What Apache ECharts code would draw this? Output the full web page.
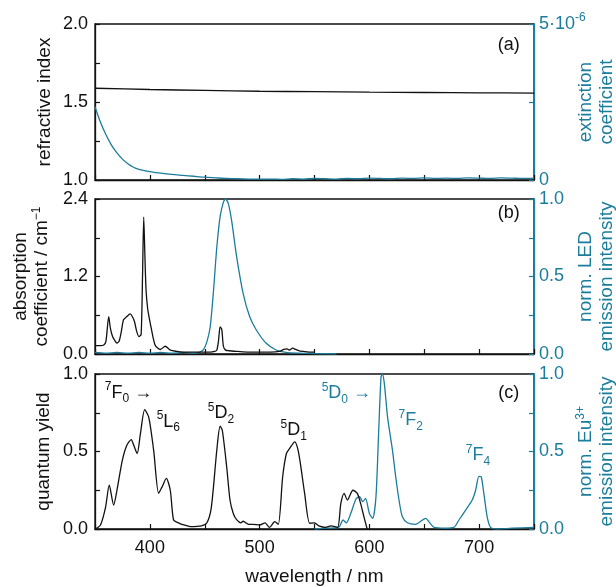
<!DOCTYPE html>
<html><head><meta charset="utf-8">
<script src="https://cdn.jsdelivr.net/npm/echarts@6/dist/echarts.min.js"></script>
<style>html,body{margin:0;padding:0;background:#fff}#c{width:616px;height:587px}</style>
</head><body><div id="c"></div>
<script>
// ---------- data ----------
// (a) refractive index & extinction coefficient (x 1e-6)
const refWl = [350,400,450,500,550,600,650,700,750];
const refN  = [1.588,1.580,1.574,1.569,1.566,1.563,1.561,1.559,1.557];
const extWl = [350,355,360,365,370,375,380,385,390,395,400,410,420,430,440,450,460,470,480,490,500,510,520,530,540,550,560,570,580,590,600,610,620,630,640,650,660,670,680,690,700,710,720,730,740,750];
const extK  = [2.35,1.85,1.45,1.12,0.87,0.67,0.52,0.41,0.34,0.30,0.27,0.22,0.18,0.15,0.12,0.09,0.07,0.05,0.04,0.03,0.025,0.03,0.02,0.04,0.03,0.05,0.04,0.03,0.05,0.04,0.06,0.05,0.04,0.06,0.05,0.07,0.05,0.06,0.05,0.07,0.06,0.05,0.07,0.06,0.05,0.06];
// (b) absorption coefficient & LED emission
const absWl = [350,355,358,360,362.5,364,366,368,370,372,374,376,379,382,384,386,388,390,392,393.3,394.4,395.5,396.5,398,399.5,401,403,405,409.5,414,418.6,424.6,430,440,450,455,459,461,462.5,464,465.5,467,469,472,480,490,500,510,518,522,525,527,530,533,536,540,545,550];
const absA  = [0.13,0.13,0.14,0.20,0.58,0.40,0.27,0.21,0.17,0.20,0.35,0.53,0.58,0.62,0.58,0.50,0.35,0.27,0.30,1.20,2.12,1.50,1.00,0.70,0.55,0.42,0.25,0.13,0.07,0.12,0.06,0.04,0.03,0.03,0.03,0.03,0.04,0.06,0.20,0.42,0.38,0.12,0.06,0.05,0.04,0.03,0.03,0.03,0.04,0.07,0.08,0.06,0.09,0.07,0.05,0.04,0.03,0.03];
const ledWl = [350,360,370,380,390,400,410,420,430,440,445,449,452,455,458,461,464,467,469,471.5,474.5,479,485,491,497,506,515,524,535,550,570];
const ledI  = [0.01,0.005,0.01,0.005,0.01,0.005,0.01,0.005,0.01,0.005,0.01,0.03,0.08,0.176,0.41,0.69,0.886,0.98,1.0,0.97,0.86,0.63,0.39,0.24,0.155,0.069,0.026,0.01,0.005,0.003,0.0];
// (c) quantum yield & Eu3+ emission
const qyWl = [350.5,355,359.6,363,367,370,374.8,379,383,385.3,388.4,391.4,395.3,399,403.4,408,411,415,418.6,421.6,426,431,437,447,452,456,461,464,466,470,473,476,479,483,485,490,494,500,505,509,513.8,517,521,524.4,527.4,532,535,538,541,545.6,550,554,560,565,571,574,577,580,585,589,592,595,598];
const qyV  = [0,0.026,0.14,0.283,0.155,0.25,0.44,0.54,0.577,0.54,0.487,0.616,0.77,0.72,0.51,0.23,0.27,0.326,0.25,0.058,0.04,0.026,0.015,0.02,0.04,0.14,0.51,0.663,0.637,0.40,0.187,0.10,0.06,0.04,0.05,0.03,0.03,0.026,0.04,0.01,0.047,0.03,0.337,0.487,0.52,0.562,0.51,0.38,0.23,0.037,0.04,0.02,0.01,0.02,0.01,0.165,0.23,0.187,0.25,0.23,0.165,0.08,0];
const euWl = [550,560,572,576,579,583,588,591,594,596.5,600,603,606,608.4,610.6,611.8,613.6,616.6,621,624,627,630,634.7,642,648.4,651.4,654.4,659,669,677,681.6,687.7,693.7,696.8,699.8,701.9,704.3,707.3,710.4,716,730,750];
const euV  = [0,0.005,0.01,0.058,0.04,0.10,0.197,0.208,0.176,0.197,0.10,0.069,0.208,0.616,0.98,1.0,0.94,0.72,0.51,0.337,0.187,0.08,0.04,0.03,0.058,0.069,0.045,0.01,0.005,0.01,0.058,0.122,0.187,0.25,0.34,0.337,0.23,0.08,0.01,0,0.005,0.01];
const xTicks = [400,500,600,700];

// ---------- style ----------
const FF = '"Liberation Sans", Arial, sans-serif';
const TEAL = '#1b7d9c';
const BLACK = '#111';
const pairs = (xs, ys) => xs.map((x, i) => [x, ys[i]]);
const rich = c => ({
  n:   {fontSize: 18, color: c, fontFamily: FF, lineHeight: 24},
  sup: {fontSize: 12, color: c, fontFamily: FF, verticalAlign: 'top', lineHeight: 24},
  sub: {fontSize: 12, color: c, fontFamily: FF, verticalAlign: 'bottom', lineHeight: 18},
  t:   {fontSize: 19, color: c, fontFamily: FF, lineHeight: 21},
  ts:  {fontSize: 12, color: c, fontFamily: FF, verticalAlign: 'top', lineHeight: 21}
});
const ann = (coord, text, color) => ({
  coord, value: 0, symbol: 'circle', symbolSize: 1, itemStyle: {color: 'rgba(0,0,0,0)'},
  label: {show: true, position: 'inside', formatter: text, color, fontSize: 18, fontFamily: FF, rich: rich(color)}
});

const grids = [
  {left: 95, right: 82, top: 24, height: 156},
  {left: 95, right: 82, top: 199, height: 155},
  {left: 95, right: 82, top: 374, height: 155}
].map(g => Object.assign(g, {show: true, borderColor: BLACK, borderWidth: 1.3, backgroundColor: 'transparent',
  containLabel: false, outerBoundsMode: 'none'}));

const xAxes = [0, 1, 2].map(i => ({
  type: 'value', gridIndex: i, min: 350, max: 750, interval: 50,
  axisLine: {lineStyle: {color: BLACK, width: 1.3}},
  axisTick: {inside: true, length: 5, lineStyle: {color: BLACK, width: 1.2}},
  splitLine: {show: false},
  axisLabel: {show: i === 2, margin: 10, fontSize: 18, color: BLACK, fontFamily: FF,
    formatter: v => xTicks.includes(Math.round(v)) ? String(Math.round(v)) : ''},
  name: i === 2 ? 'wavelength / nm' : '', nameLocation: 'middle', nameGap: 38, nameMoveOverlap: false,
  nameTextStyle: {fontSize: 19, color: BLACK, fontFamily: FF}
}));

function yAx(gi, side, min, max, interval, labelStep, dec, name, color, nameGap) {
  return {
    type: 'value', gridIndex: gi, position: side, min, max, interval,
    axisLine: {show: true, lineStyle: {color, width: 1.3}},
    axisTick: {show: true, inside: true, length: 5, lineStyle: {color, width: 1.2}},
    splitLine: {show: false},
    axisLabel: {margin: side === 'left' ? 7 : 5, fontSize: 18, color, fontFamily: FF,
      rich: rich(color),
      formatter: v => {
        const r = v / labelStep;
        if (Math.abs(r - Math.round(r)) > 1e-6) return '';
        return typeof dec === 'function' ? dec(v) : v.toFixed(dec);
      }},
    name, nameLocation: 'middle', nameGap, nameRotate: 90, nameMoveOverlap: false,
    nameTextStyle: {fontSize: 19, color, fontFamily: FF, lineHeight: 21, rich: rich(color)}
  };
}

const yAxes = [
  yAx(0, 'left', 1, 2, 0.25, 0.5, 1, 'refractive index', BLACK, 40),
  yAx(0, 'right', 0, 5, 2.5, 5, v => v === 0 ? '0' : '{n|5·10}{sup|-6}', '{t|extinction}\n{t|coefficient}', TEAL, 41),
  yAx(1, 'left', 0, 2.4, 0.6, 1.2, 1, '{t|absorption}\n{t|coefficient / cm}{ts|−1}', BLACK, 43),
  yAx(1, 'right', 0, 1, 0.25, 0.5, 1, '{t|norm. LED}\n{t|emission intensity}', TEAL, 41),
  yAx(2, 'left', 0, 1, 0.25, 0.5, 1, 'quantum yield', BLACK, 41),
  yAx(2, 'right', 0, 1, 0.25, 0.5, 1, '{t|norm. Eu}{ts|3+}\n{t|emission intensity}', TEAL, 41)
];

const line = (xi, yi, data, color, mp) => ({
  type: 'line', xAxisIndex: xi, yAxisIndex: yi, data, showSymbol: false, symbol: 'none',
  smooth: 0.25, lineStyle: {color, width: 1.3}, itemStyle: {color}, silent: true,
  markPoint: mp ? {silent: true, data: mp, animation: false} : undefined
});

const option = {
  animation: false,
  grid: grids, xAxis: xAxes, yAxis: yAxes,
  series: [
    line(0, 0, pairs(refWl, refN), BLACK, [ann([727, 1.865], '(a)', BLACK)]),
    line(0, 1, pairs(extWl, extK), TEAL),
    line(1, 3, pairs(ledWl, ledI), TEAL),
    line(1, 2, pairs(absWl, absA), BLACK, [ann([727, 2.18], '(b)', BLACK)]),
    line(2, 5, pairs(euWl, euV), TEAL, [
      ann([579, 0.876], '{sup|5}{n|D}{sub|0}{n| →}', TEAL),
      ann([637.6, 0.70], '{sup|7}{n|F}{sub|2}', TEAL),
      ann([699, 0.476], '{sup|7}{n|F}{sub|4}', TEAL)
    ]),
    line(2, 4, pairs(qyWl, qyV), BLACK, [
      ann([380.5, 0.88], '{sup|7}{n|F}{sub|0}{n| →}', BLACK),
      ann([416.8, 0.69], '{sup|5}{n|L}{sub|6}', BLACK),
      ann([464.8, 0.747], '{sup|5}{n|D}{sub|2}', BLACK),
      ann([531, 0.637], '{sup|5}{n|D}{sub|1}', BLACK),
      ann([727, 0.876], '(c)', BLACK)
    ])
  ]
};
const chart = echarts.init(document.getElementById('c'), null, {renderer: 'canvas'});
chart.setOption(option);
</script>
</body></html>
